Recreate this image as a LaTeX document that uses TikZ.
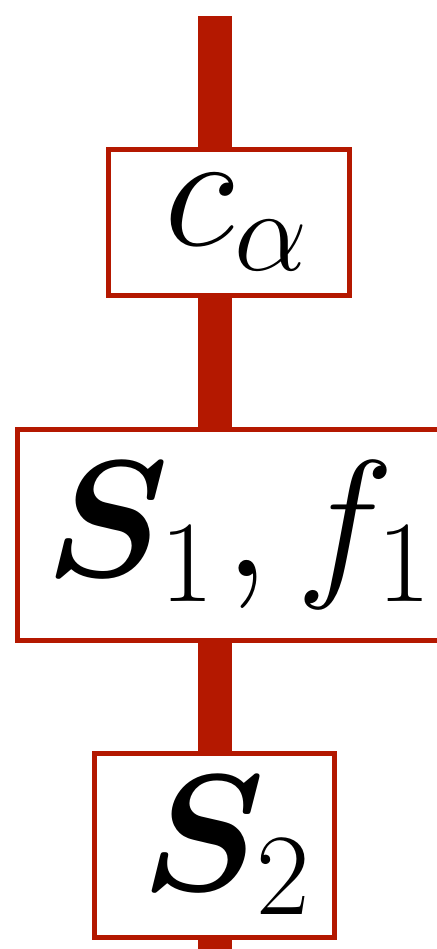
\documentclass[tikz,border=0pt]{standalone}
\usepackage{fix-cm}
\usepackage{amsmath,amssymb,bm}
\definecolor{wirered}{RGB}{180,24,0}
\usetikzlibrary{positioning}
\tikzset{
  gatebox/.style={draw=wirered, fill=white, line width=2.5pt, inner sep=0pt, font=\fontsize{83}{90}\selectfont},
  wire/.style={draw=wirered, line width=17pt}
}
\begin{document}
\begin{tikzpicture}[x=0.5pt,y=-0.5pt]
  \useasboundingbox (0,0) rectangle (436,949);
  \coordinate (top) at (214.5,16);
  \coordinate (bot) at (214.5,960);
  \draw[wire] (top) -- (bot);
  \node[gatebox, minimum width=120.5pt, minimum height=73pt] (ca) at (229,222.5) {\hspace{8pt}$c_\alpha$};
  \node[gatebox, minimum width=221pt, minimum height=105.5pt] (s1) at (238.5,535) {$\bm{S}_1\mkern1mu, f_1$};
  \node[gatebox, minimum width=120pt, minimum height=92pt] (s2) at (214.5,845.5) {\hspace{12pt}$\bm{S}_2$};
\end{tikzpicture}
\end{document}
